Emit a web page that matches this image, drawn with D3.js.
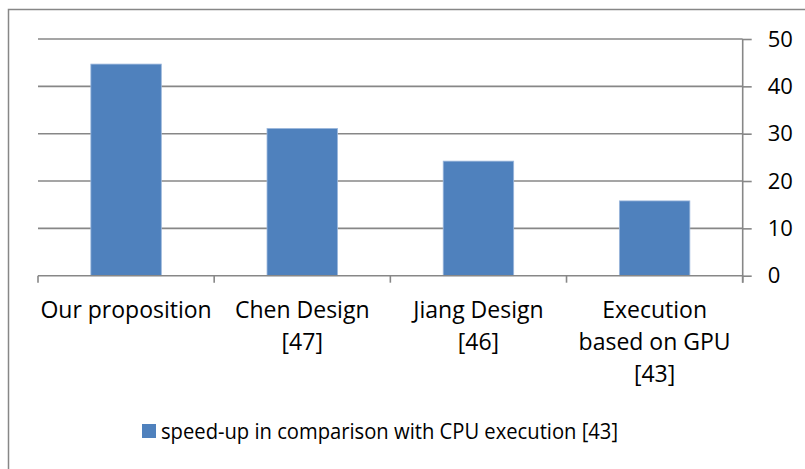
<!DOCTYPE html>
<html>
<head>
<meta charset="utf-8">
<script src="https://cdn.jsdelivr.net/npm/d3@7"></script>
<style>
  html, body { margin: 0; padding: 0; background: #fff; }
  svg { display: block; }
  text { font-family: "Open Sans", sans-serif; fill: #000; }
</style>
</head>
<body>
<svg id="chart" width="805" height="469"></svg>
<script>
const categories = ["Our proposition", "Chen Design [47]", "Jiang Design [46]", "Execution based on GPU [43]"];
const categoryLines = [["Our proposition"], ["Chen Design", "[47]"], ["Jiang Design", "[46]"], ["Execution", "based on GPU", "[43]"]];
const speedup = [44.7, 31.1, 24.2, 15.8];
const yTicks = [0, 10, 20, 30, 40, 50];
const seriesName = "speed-up in comparison with CPU execution [43]";

const svg = d3.select("#chart");
const W = 805, H = 469;
const plot = { left: 38, right: 742.7, top: 39, bottom: 275.7 };
const gridColor = "#878787";
const barColor = "#4F81BD";

// outer chart border
svg.append("rect")
  .attr("x", 8.5).attr("y", 9.5)
  .attr("width", W).attr("height", H)
  .attr("fill", "#fff")
  .attr("stroke", gridColor).attr("stroke-width", 1.5);

const x = d3.scaleBand().domain(categories)
  .range([plot.left, plot.right])
  .paddingInner(0.6).paddingOuter(0.3);
const y = d3.scaleLinear().domain([0, 50]).range([plot.bottom, plot.top]);

// gridlines
svg.append("g")
  .selectAll("line").data(yTicks.filter(d => d > 0)).join("line")
  .attr("x1", plot.left).attr("x2", plot.right)
  .attr("y1", d => y(d)).attr("y2", d => y(d))
  .attr("stroke", gridColor).attr("stroke-width", 1.6);

// bars
svg.append("g")
  .selectAll("rect").data(speedup).join("rect")
  .attr("x", (d, i) => x(categories[i]))
  .attr("y", d => y(d))
  .attr("width", x.bandwidth())
  .attr("height", d => y(0) - y(d))
  .attr("fill", barColor)
  .attr("stroke", "#9BB7DC").attr("stroke-width", 0.8);

// right axis
const yAxis = d3.axisRight(y).tickValues(yTicks).tickSize(9).tickPadding(16);
const gy = svg.append("g").attr("transform", `translate(${plot.right},0)`).call(yAxis);
gy.select(".domain").attr("d", `M0,${plot.top}V${plot.bottom + 7}`).attr("stroke", gridColor).attr("stroke-width", 1.6);
gy.selectAll(".tick line").attr("stroke", gridColor).attr("stroke-width", 1.6);
gy.selectAll(".tick text").attr("font-size", 22).attr("font-family", "'Open Sans', sans-serif").attr("fill", "#000");

// bottom axis
const step = x.step();
const boundaries = categories.map(c => x(c) - (step - x.bandwidth()) / 2).concat([plot.right]);
const gx = svg.append("g");
gx.append("line")
  .attr("x1", plot.left).attr("x2", plot.right)
  .attr("y1", y(0)).attr("y2", y(0))
  .attr("stroke", gridColor).attr("stroke-width", 1.6);
gx.selectAll("line.tk").data(boundaries).join("line").attr("class", "tk")
  .attr("x1", d => d).attr("x2", d => d)
  .attr("y1", y(0)).attr("y2", y(0) + 7)
  .attr("stroke", gridColor).attr("stroke-width", 1.6);

const labels = svg.append("g").selectAll("text").data(categories).join("text")
  .attr("x", d => x(d) + x.bandwidth() / 2)
  .attr("y", 318)
  .attr("text-anchor", "middle")
  .attr("font-size", 23);
labels.each(function(d, i) {
  d3.select(this).selectAll("tspan").data(categoryLines[i]).join("tspan")
    .attr("x", x(d) + x.bandwidth() / 2)
    .attr("dy", (t, j) => j === 0 ? 0 : 32)
    .text(t => t);
});

// legend
const lg = svg.append("g");
lg.append("rect").attr("x", 142).attr("y", 424).attr("width", 14).attr("height", 14).attr("fill", barColor);
lg.append("text").attr("x", 161).attr("y", 439).attr("font-size", 22.5)
  .attr("textLength", 457).attr("lengthAdjust", "spacingAndGlyphs").text(seriesName);
</script>
</body>
</html>
